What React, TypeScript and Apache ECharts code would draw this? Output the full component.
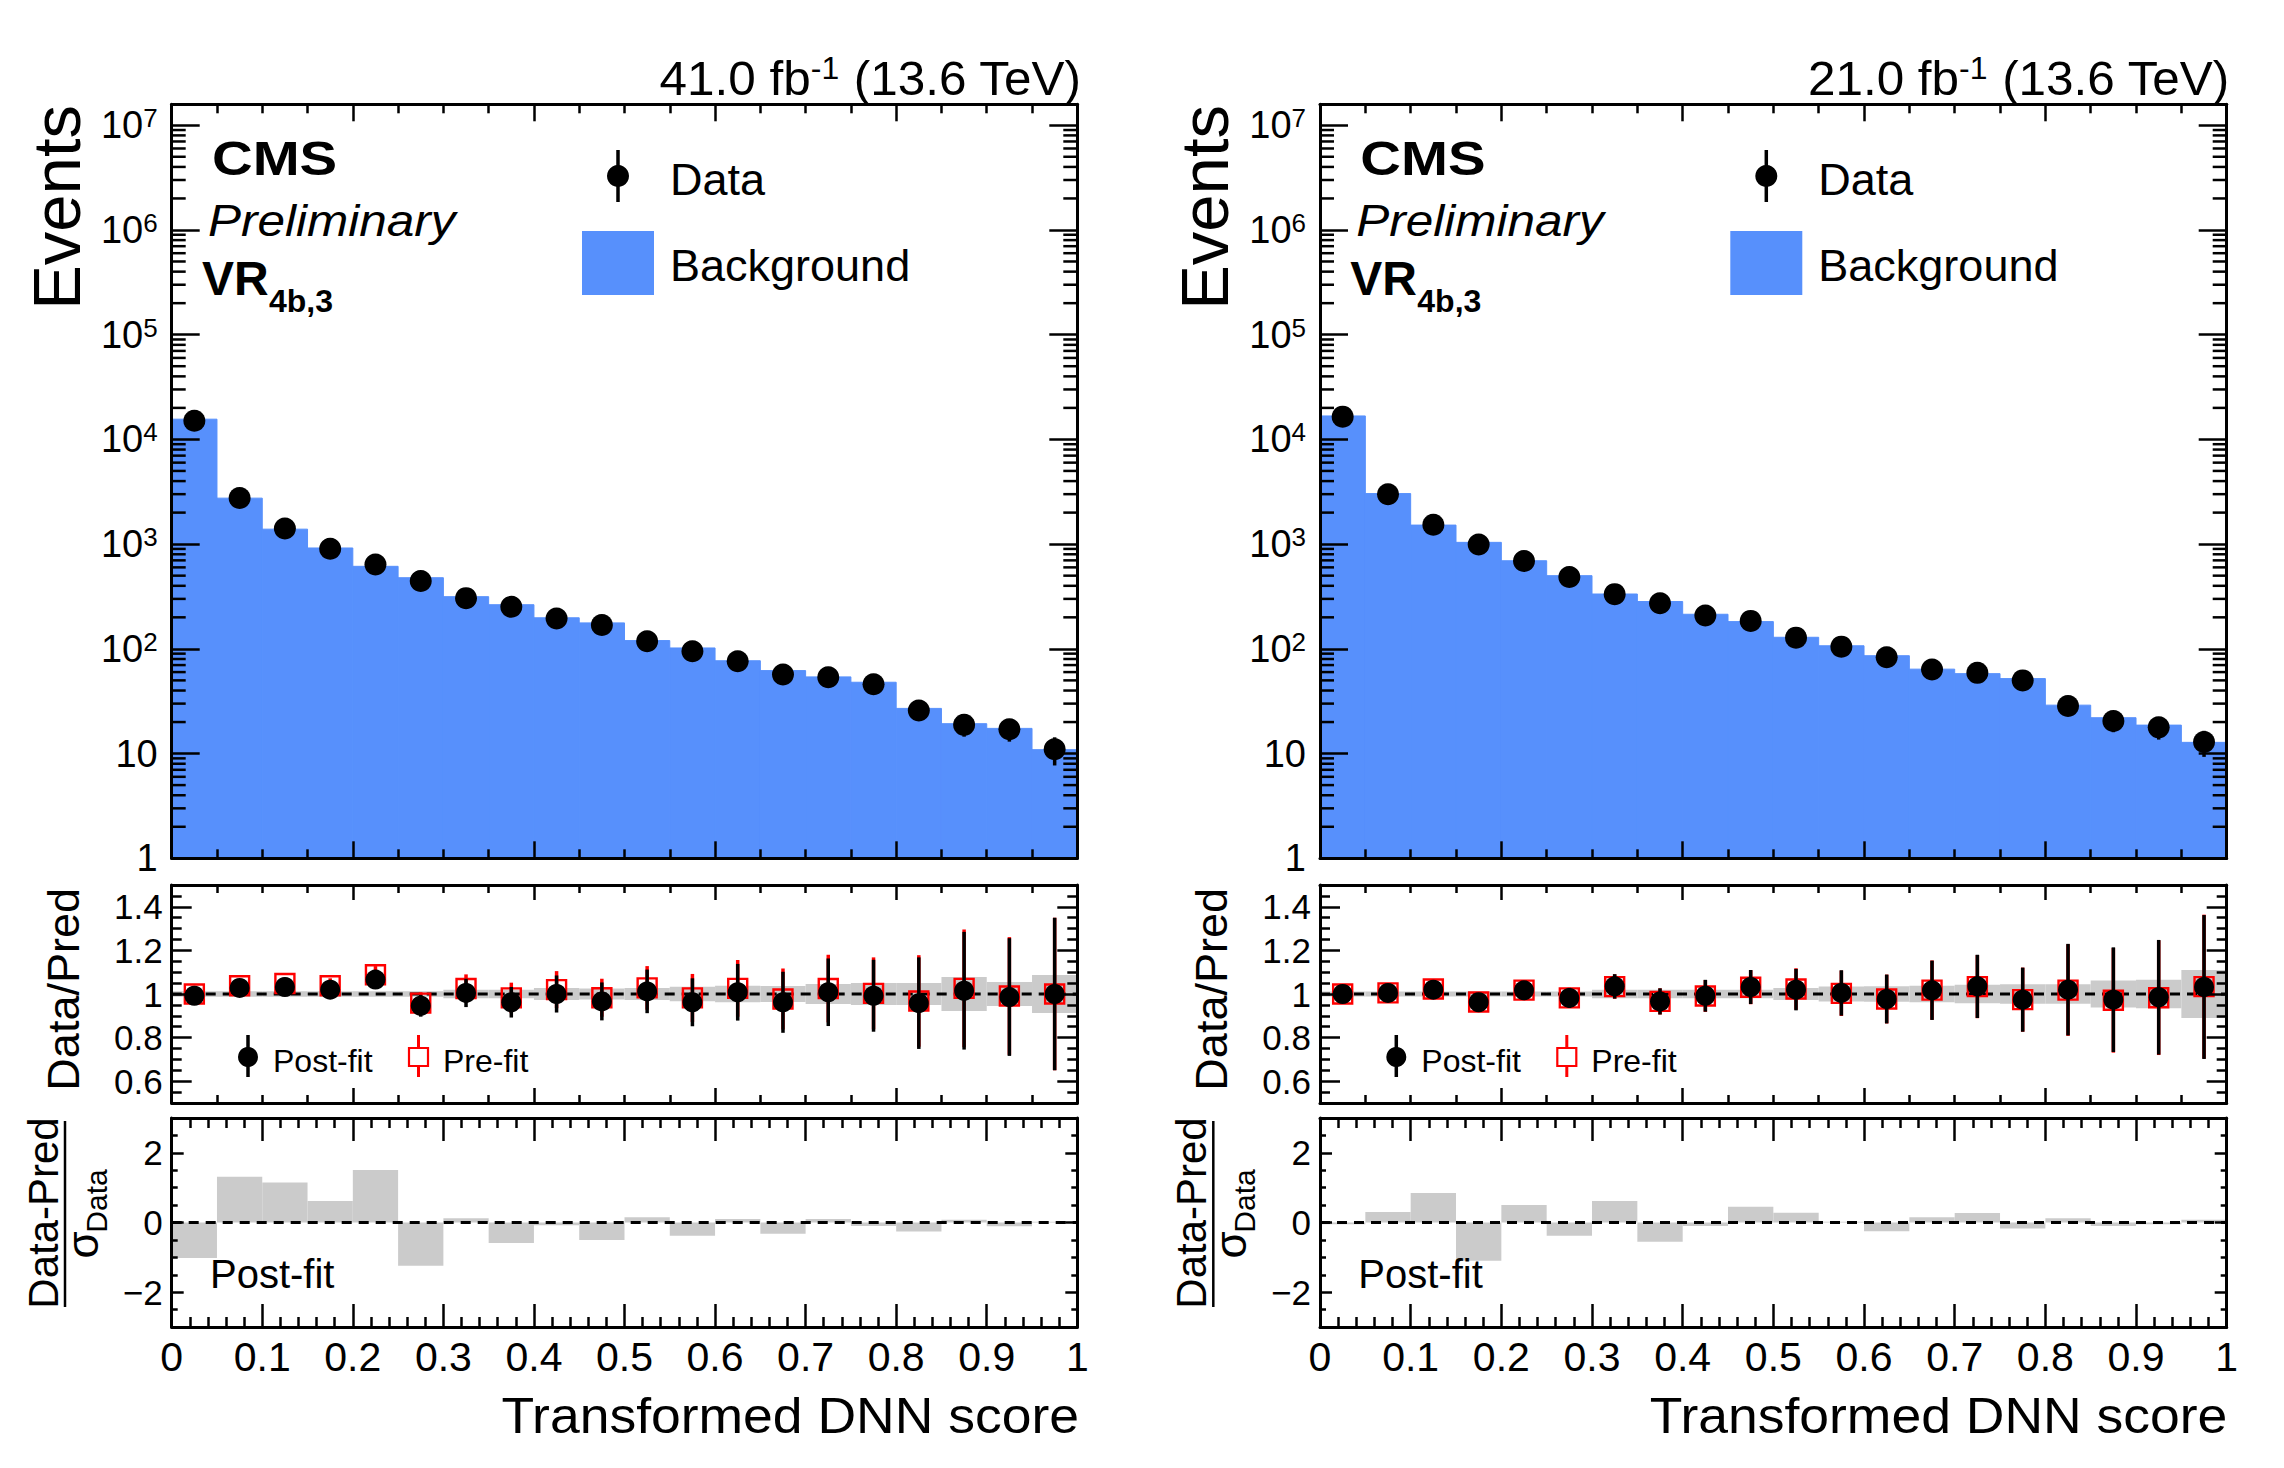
import React, { useEffect, useRef } from 'react';
import * as echarts from 'echarts';

const FONT = '"Liberation Sans", Arial, Helvetica, sans-serif';
const BLUE = '#5790fc';
const GREY = '#cbcbcb';

// bin centres of the transformed DNN score (bin width 0.05)
const BIN_CENTERS = [0.025, 0.075, 0.125, 0.175, 0.225, 0.275, 0.325, 0.375, 0.425, 0.475,
  0.525, 0.575, 0.625, 0.675, 0.725, 0.775, 0.825, 0.875, 0.925, 0.975];
const BIN_WIDTH = 0.05;

// ---- left panel (41.0 fb-1)
const L_BKG = [15600, 2750, 1390, 919, 614, 478, 315, 264, 198, 177, 120, 102, 77, 62, 54, 48, 27, 19.3, 17.4, 10.9];
const L_DATA = [15100, 2760, 1410, 905, 640, 445, 305, 252, 195, 169, 118, 95, 76, 57, 53.5, 46, 25.8, 18.8, 17.1, 11];
const L_DATA_ERR = [123, 52, 37.5, 30, 25, 21, 17.5, 16, 14, 13, 11, 9.7, 8.7, 7.5, 7.3, 6.8, 5.1, 4.3, 4.1, 3.3];
const L_POST = [0.992, 1.028, 1.032, 1.02, 1.066, 0.946, 1.005, 0.962, 1.0, 0.966, 1.012, 0.962, 1.008, 0.962, 1.008, 0.992, 0.958, 1.015, 0.986, 1.0];
const L_PRE = [1.0, 1.038, 1.048, 1.038, 1.088, 0.958, 1.025, 0.982, 1.02, 0.983, 1.028, 0.982, 1.026, 0.977, 1.025, 1.003, 0.968, 1.026, 0.991, 1.0];
const L_RATIO_ERR = [0.008, 0.02, 0.027, 0.034, 0.04, 0.05, 0.065, 0.07, 0.085, 0.087, 0.1, 0.11, 0.13, 0.14, 0.155, 0.165, 0.21, 0.27, 0.27, 0.35];
const L_BAND = [0.013, 0.013, 0.013, 0.013, 0.013, 0.013, 0.02, 0.02, 0.027, 0.025, 0.027, 0.033, 0.038, 0.037, 0.046, 0.05, 0.05, 0.078, 0.055, 0.087];
const L_PULL = [-1.02, 1.31, 1.15, 0.62, 1.51, -1.24, 0.12, -0.59, -0.08, -0.5, 0.15, -0.38, 0.1, -0.32, 0.1, -0.1, -0.26, 0.08, -0.11, 0.02];

// ---- right panel (21.0 fb-1)
const R_BKG = [16750, 3040, 1520, 1040, 694, 500, 334, 283, 214, 182, 129, 107, 86, 64, 58, 52, 29, 22, 18.7, 12.8];
const R_DATA = [16500, 3000, 1530, 990, 690, 485, 333, 273, 208, 185, 128, 105, 83, 63.5, 59, 50, 28.5, 20.5, 17.8, 12.9];
const R_DATA_ERR = [128, 55, 39, 31.5, 26, 22, 18, 16.5, 14.4, 13.6, 11.3, 10.2, 9.1, 8, 7.7, 7.1, 5.3, 4.5, 4.2, 3.6];
const R_POST = [1.0, 1.005, 1.02, 0.962, 1.017, 0.982, 1.035, 0.966, 0.992, 1.032, 1.02, 1.005, 0.977, 1.017, 1.035, 0.974, 1.02, 0.974, 0.985, 1.032];
const R_PRE = [1.0, 1.005, 1.023, 0.963, 1.018, 0.982, 1.034, 0.966, 0.991, 1.031, 1.023, 1.003, 0.977, 1.018, 1.034, 0.974, 1.018, 0.971, 0.983, 1.034];
const R_RATIO_ERR = [0.008, 0.018, 0.026, 0.032, 0.038, 0.046, 0.056, 0.06, 0.073, 0.078, 0.095, 0.104, 0.112, 0.136, 0.145, 0.147, 0.21, 0.24, 0.263, 0.33];
const R_BAND = [0.012, 0.012, 0.012, 0.012, 0.012, 0.012, 0.02, 0.02, 0.02, 0.02, 0.028, 0.034, 0.035, 0.038, 0.042, 0.045, 0.045, 0.062, 0.065, 0.11];
const R_PULL = [-0.05, 0.3, 0.85, -1.1, 0.5, -0.38, 0.62, -0.55, -0.1, 0.45, 0.28, 0.02, -0.25, 0.15, 0.27, -0.17, 0.12, -0.1, -0.05, 0.08];

// minor ticks of the log axis (2..9 x 10^n)
const LOG_MINOR_TICKS: number[] = [];
for (let n = 0; n < 7; n++) for (let k = 2; k <= 9; k++) LOG_MINOR_TICKS.push(k * Math.pow(10, n));

const TICK_STYLE = { color: '#000', width: 2.5 };

type Kind = 'main' | 'ratio' | 'pull';

function xAxes(g: number, kind: Kind) {
  const cfg = kind === 'main' ? { interval: 0.2, major: 17, minor: 9, split: 4 }
    : kind === 'ratio' ? { interval: 0.2, major: 15, minor: 8, split: 4 }
      : { interval: 0.1, major: 23, minor: 10, split: 5 };
  const mk = (pos: string, labels: boolean) => ({
    type: 'value', gridIndex: g, position: pos, min: 0, max: 1, interval: cfg.interval, z: 10,
    axisLine: { show: true, onZero: false, lineStyle: { color: '#000', width: 3 } },
    axisTick: { show: true, inside: true, length: cfg.major, lineStyle: TICK_STYLE },
    minorTick: { show: true, splitNumber: cfg.split, length: cfg.minor, lineStyle: TICK_STYLE },
    splitLine: { show: false }, minorSplitLine: { show: false },
    axisLabel: labels ? {
      show: true, margin: 9, fontSize: 41, color: '#000', fontFamily: FONT,
      showMinLabel: true, showMaxLabel: true,
      formatter: (v: number) => { const r = Math.round(v * 10) / 10; return r === 0 ? '0' : r === 1 ? '1' : r.toFixed(1); },
    } : { show: false },
  });
  return [mk('bottom', kind === 'pull'), mk('top', false)];
}

function yAxes(g: number, kind: Kind) {
  const common = (pos: string) => ({
    gridIndex: g, position: pos, z: 10,
    axisLine: { show: true, onZero: false, lineStyle: { color: '#000', width: 3 } },
    splitLine: { show: false }, minorSplitLine: { show: false },
  });
  const res: any[] = [];
  for (const pos of ['left', 'right']) {
    const lab = pos === 'left';
    if (kind === 'main') {
      res.push({
        ...common(pos), type: 'log', logBase: 10, min: 1, max: Math.pow(10, 7.2),
        axisTick: { show: true, inside: true, length: 28, lineStyle: TICK_STYLE },
        minorTick: { show: false },
        axisLabel: lab ? {
          show: true, margin: 14, fontSize: 38, color: '#000', fontFamily: FONT,
          formatter: (v: number) => {
            const lg = Math.log10(v); const e = Math.round(lg);
            if (Math.abs(lg - e) > 1e-6) return '';
            if (e === 0) return '1';
            if (e === 1) return '10';
            return `{b|10}{s|${e}}`;
          },
          rich: {
            b: { fontSize: 38, fontFamily: FONT, color: '#000', lineHeight: 40 },
            s: { fontSize: 26, fontFamily: FONT, color: '#000', verticalAlign: 'top', lineHeight: 26 },
          },
        } : { show: false },
      });
    } else if (kind === 'ratio') {
      res.push({
        ...common(pos), type: 'value', min: 0.5, max: 1.5, splitNumber: 5,
        axisTick: { show: true, inside: true, length: 20, lineStyle: TICK_STYLE },
        minorTick: { show: true, splitNumber: 4, length: 10, lineStyle: TICK_STYLE },
        axisLabel: lab ? {
          show: true, margin: 9, fontSize: 35, color: '#000', fontFamily: FONT,
          formatter: (v: number) => {
            const r = Math.round(v * 100) / 100;
            if (r === 0.5 || r === 1.5) return '';
            return r === 1 ? '1' : String(r);
          },
        } : { show: false },
      });
    } else {
      res.push({
        ...common(pos), type: 'value', min: -3, max: 3, splitNumber: 3,
        axisTick: { show: true, inside: true, length: 12, lineStyle: TICK_STYLE },
        minorTick: { show: true, splitNumber: 4, length: 6, lineStyle: TICK_STYLE },
        axisLabel: lab ? {
          show: true, margin: 9, fontSize: 35, color: '#000', fontFamily: FONT,
          formatter: (v: number) => {
            const r = Math.round(v * 100) / 100;
            return r === 2 ? '2' : r === 0 ? '0' : r === -2 ? '\u22122' : '';
          },
        } : { show: false },
      });
    }
  }
  return res;
}

function errSeries(g: number, values: number[], errs: number[], color: string, z: number) {
  return {
    type: 'custom', xAxisIndex: 2 * g, yAxisIndex: 2 * g, z, silent: true,
    data: BIN_CENTERS.map((c, i) => [c, values[i], errs[i]]),
    renderItem: (_p: any, api: any) => {
      const c = api.value(0), v = api.value(1), e = api.value(2);
      const a = api.coord([c, v - e]);
      const b = api.coord([c, v + e]);
      return { type: 'line', shape: { x1: a[0], y1: a[1], x2: b[0], y2: b[1] }, style: { stroke: color, lineWidth: 3.5 } };
    },
  };
}

function dashedLine(g: number, y: number) {
  return {
    type: 'line', xAxisIndex: 2 * g, yAxisIndex: 2 * g, z: 3, silent: true, symbol: 'none',
    data: [[0, y], [1, y]],
    lineStyle: { color: '#000', width: 3.2, type: [10, 7], opacity: 1 },
  };
}

function panelSeries(gBase: number, d: any) {
  const gm = gBase, gr = gBase + 1, gp = gBase + 2;
  const s: any[] = [];
  // main: background histogram
  s.push({
    type: 'custom', xAxisIndex: 2 * gm, yAxisIndex: 2 * gm, z: 2, silent: true,
    data: BIN_CENTERS.map((c, i) => [c, d.bkg[i]]),
    renderItem: (_p: any, api: any) => {
      const c = api.value(0), v = api.value(1);
      const a = api.coord([c - BIN_WIDTH / 2, v]);
      const b = api.coord([c + BIN_WIDTH / 2, 1]);
      return { type: 'rect', shape: { x: a[0], y: a[1], width: b[0] - a[0], height: b[1] - a[1] }, style: { fill: BLUE, stroke: BLUE, lineWidth: 1 } };
    },
  });
  s.push(errSeries(gm, d.data, d.dataErr, '#000', 4));
  s.push({
    type: 'scatter', xAxisIndex: 2 * gm, yAxisIndex: 2 * gm, z: 5, silent: true,
    symbol: 'circle', symbolSize: 22, itemStyle: { color: '#000', opacity: 1 },
    data: BIN_CENTERS.map((c, i) => [c, d.data[i]]),
  });
  // log minor ticks
  s.push({
    type: 'custom', xAxisIndex: 2 * gm, yAxisIndex: 2 * gm, z: 12, silent: true,
    data: LOG_MINOR_TICKS.map((v) => [0, v]),
    renderItem: (_p: any, api: any) => {
      const v = api.value(1);
      const l = api.coord([0, v]);
      const r = api.coord([1, v]);
      return {
        type: 'group', children: [
          { type: 'line', shape: { x1: l[0], y1: l[1], x2: l[0] + 14, y2: l[1] }, style: { stroke: '#000', lineWidth: 2.5 } },
          { type: 'line', shape: { x1: r[0] - 14, y1: r[1], x2: r[0], y2: r[1] }, style: { stroke: '#000', lineWidth: 2.5 } },
        ],
      };
    },
  });
  // ratio: uncertainty band
  s.push({
    type: 'custom', xAxisIndex: 2 * gr, yAxisIndex: 2 * gr, z: 2, silent: true,
    data: BIN_CENTERS.map((c, i) => [c, d.band[i]]),
    renderItem: (_p: any, api: any) => {
      const c = api.value(0), u = api.value(1);
      const a = api.coord([c - BIN_WIDTH / 2, 1 + u]);
      const b = api.coord([c + BIN_WIDTH / 2, 1 - u]);
      return { type: 'rect', shape: { x: a[0], y: a[1], width: b[0] - a[0], height: b[1] - a[1] }, style: { fill: GREY } };
    },
  });
  s.push(dashedLine(gr, 1));
  s.push(errSeries(gr, d.pre, d.ratioErr, '#ff0000', 4));
  s.push({
    type: 'scatter', xAxisIndex: 2 * gr, yAxisIndex: 2 * gr, z: 5, silent: true,
    symbol: 'rect', symbolSize: 19,
    itemStyle: { color: 'rgba(0,0,0,0)', borderColor: '#ff0000', borderWidth: 2.4, opacity: 1 },
    data: BIN_CENTERS.map((c, i) => [c, d.pre[i]]),
  });
  s.push(errSeries(gr, d.post, d.ratioErr, '#000', 6));
  s.push({
    type: 'scatter', xAxisIndex: 2 * gr, yAxisIndex: 2 * gr, z: 7, silent: true,
    symbol: 'circle', symbolSize: 20, itemStyle: { color: '#000', opacity: 1 },
    data: BIN_CENTERS.map((c, i) => [c, d.post[i]]),
  });
  // pull
  s.push({
    type: 'custom', xAxisIndex: 2 * gp, yAxisIndex: 2 * gp, z: 2, silent: true,
    data: BIN_CENTERS.map((c, i) => [c, d.pull[i]]),
    renderItem: (_p: any, api: any) => {
      const c = api.value(0), v = api.value(1);
      const a = api.coord([c - BIN_WIDTH / 2, v]);
      const b = api.coord([c + BIN_WIDTH / 2, 0]);
      return { type: 'rect', shape: { x: a[0], y: Math.min(a[1], b[1]), width: b[0] - a[0], height: Math.abs(b[1] - a[1]) }, style: { fill: GREY } };
    },
  });
  s.push(dashedLine(gp, 0));
  return s;
}

function txt(x: number, y: number, text: string, size: number, extra: any = {}, rotation = 0, scaleX = 1) {
  return {
    type: 'text', x, y, rotation, scaleX, z: 100, silent: true,
    style: {
      text, fill: '#000', fontSize: size, fontFamily: FONT,
      align: 'left', verticalAlign: 'middle', ...extra,
    },
  };
}

function panelGraphics(dx: number, lumi: string) {
  const g: any[] = [];
  g.push({
    type: 'text', x: 1081 + dx, y: 78, z: 100, silent: true, scaleX: 1.03,
    style: {
      text: `{a|${lumi} fb}{s|-1}{a| (13.6 TeV)}`, align: 'right', verticalAlign: 'middle',
      rich: {
        a: { fontSize: 48, fontFamily: FONT, fill: '#000', lineHeight: 50 },
        s: { fontSize: 31, fontFamily: FONT, fill: '#000', verticalAlign: 'top', lineHeight: 31 },
      },
    },
  });
  g.push(txt(212 + dx, 158, 'CMS', 49, { fontWeight: 'bold' }, 0, 1.15));
  g.push(txt(208 + dx, 220, 'Preliminary', 45, { fontStyle: 'italic' }, 0, 1.1));
  g.push(txt(202 + dx, 278, 'VR', 48, { fontWeight: 'bold' }));
  g.push(txt(269 + dx, 301, '4b,3', 32, { fontWeight: 'bold' }));
  // legend main
  g.push({ type: 'line', z: 100, silent: true, shape: { x1: 618 + dx, y1: 150, x2: 618 + dx, y2: 202 }, style: { stroke: '#000', lineWidth: 3.5 } });
  g.push({ type: 'circle', z: 100, silent: true, shape: { cx: 618 + dx, cy: 176, r: 11 }, style: { fill: '#000' } });
  g.push(txt(670 + dx, 179, 'Data', 45));
  g.push({ type: 'rect', z: 100, silent: true, shape: { x: 582 + dx, y: 231, width: 72, height: 64 }, style: { fill: BLUE } });
  g.push(txt(670 + dx, 265, 'Background', 45));
  // axis titles
  g.push(txt(56 + dx, 105, 'Events', 67, { align: 'right' }, Math.PI / 2));
  g.push(txt(63 + dx, 888, 'Data/Pred', 45, { align: 'right' }, Math.PI / 2));
  g.push(txt(43.5 + dx, 1213, 'Data-Pred', 42, { align: 'center' }, Math.PI / 2));
  g.push({ type: 'line', z: 100, silent: true, shape: { x1: 65 + dx, y1: 1121, x2: 65 + dx, y2: 1307 }, style: { stroke: '#000', lineWidth: 2.5 } });
  g.push(txt(82 + dx, 1245, '\u03c3', 44, { align: 'center' }, Math.PI / 2));
  g.push(txt(96.5 + dx, 1201, 'Data', 30, { align: 'center' }, Math.PI / 2));
  g.push(txt(1079 + dx, 1416, 'Transformed DNN score', 50, { align: 'right' }, 0, 1.07));
  // ratio legend
  g.push({ type: 'line', z: 100, silent: true, shape: { x1: 248 + dx, y1: 1035, x2: 248 + dx, y2: 1077 }, style: { stroke: '#000', lineWidth: 3.5 } });
  g.push({ type: 'circle', z: 100, silent: true, shape: { cx: 248 + dx, cy: 1057, r: 10 }, style: { fill: '#000' } });
  g.push(txt(273 + dx, 1061, 'Post-fit', 32));
  g.push({ type: 'line', z: 100, silent: true, shape: { x1: 418.5 + dx, y1: 1035, x2: 418.5 + dx, y2: 1048 }, style: { stroke: '#ff0000', lineWidth: 3 } });
  g.push({ type: 'line', z: 100, silent: true, shape: { x1: 418.5 + dx, y1: 1066, x2: 418.5 + dx, y2: 1077 }, style: { stroke: '#ff0000', lineWidth: 3 } });
  g.push({ type: 'rect', z: 100, silent: true, shape: { x: 409 + dx, y: 1048, width: 19, height: 18 }, style: { fill: 'none', stroke: '#ff0000', lineWidth: 2.2 } });
  g.push(txt(443 + dx, 1061, 'Pre-fit', 32));
  // pull label
  g.push(txt(210 + dx, 1274, 'Post-fit', 40));
  return g;
}

export default function App() {
  const ref = useRef<HTMLDivElement>(null);
  useEffect(() => {
    if (!ref.current) return;
    const chart = echarts.init(ref.current, null, { renderer: 'svg' });
    const panels = [
      { left: 171.7, width: 905.6 },
      { left: 1320, width: 906.7 },
    ];
    const grids: any[] = [];
    for (const p of panels) {
      grids.push({ left: p.left, top: 104.3, width: p.width, height: 754, show: false, containLabel: false });
      grids.push({ left: p.left, top: 885, width: p.width, height: 218, show: false, containLabel: false });
      grids.push({ left: p.left, top: 1118, width: p.width, height: 209, show: false, containLabel: false });
    }
    const kinds: Kind[] = ['main', 'ratio', 'pull', 'main', 'ratio', 'pull'];
    const xAxis: any[] = [];
    const yAxis: any[] = [];
    kinds.forEach((k, g) => { xAxis.push(...xAxes(g, k)); yAxis.push(...yAxes(g, k)); });
    const series = [
      ...panelSeries(0, { bkg: L_BKG, data: L_DATA, dataErr: L_DATA_ERR, post: L_POST, pre: L_PRE, ratioErr: L_RATIO_ERR, band: L_BAND, pull: L_PULL }),
      ...panelSeries(3, { bkg: R_BKG, data: R_DATA, dataErr: R_DATA_ERR, post: R_POST, pre: R_PRE, ratioErr: R_RATIO_ERR, band: R_BAND, pull: R_PULL }),
    ];
    chart.setOption({
      animation: false,
      backgroundColor: '#ffffff',
      textStyle: { fontFamily: FONT },
      grid: grids,
      xAxis,
      yAxis,
      series,
      graphic: { elements: [...panelGraphics(0, '41.0'), ...panelGraphics(1148.3, '21.0')] },
    });
    return () => chart.dispose();
  }, []);
  return (
    <div
      ref={ref}
      style={{ position: 'absolute', left: 0, top: 0, width: 2284, height: 1468, background: '#fff' }}
    />
  );
}
